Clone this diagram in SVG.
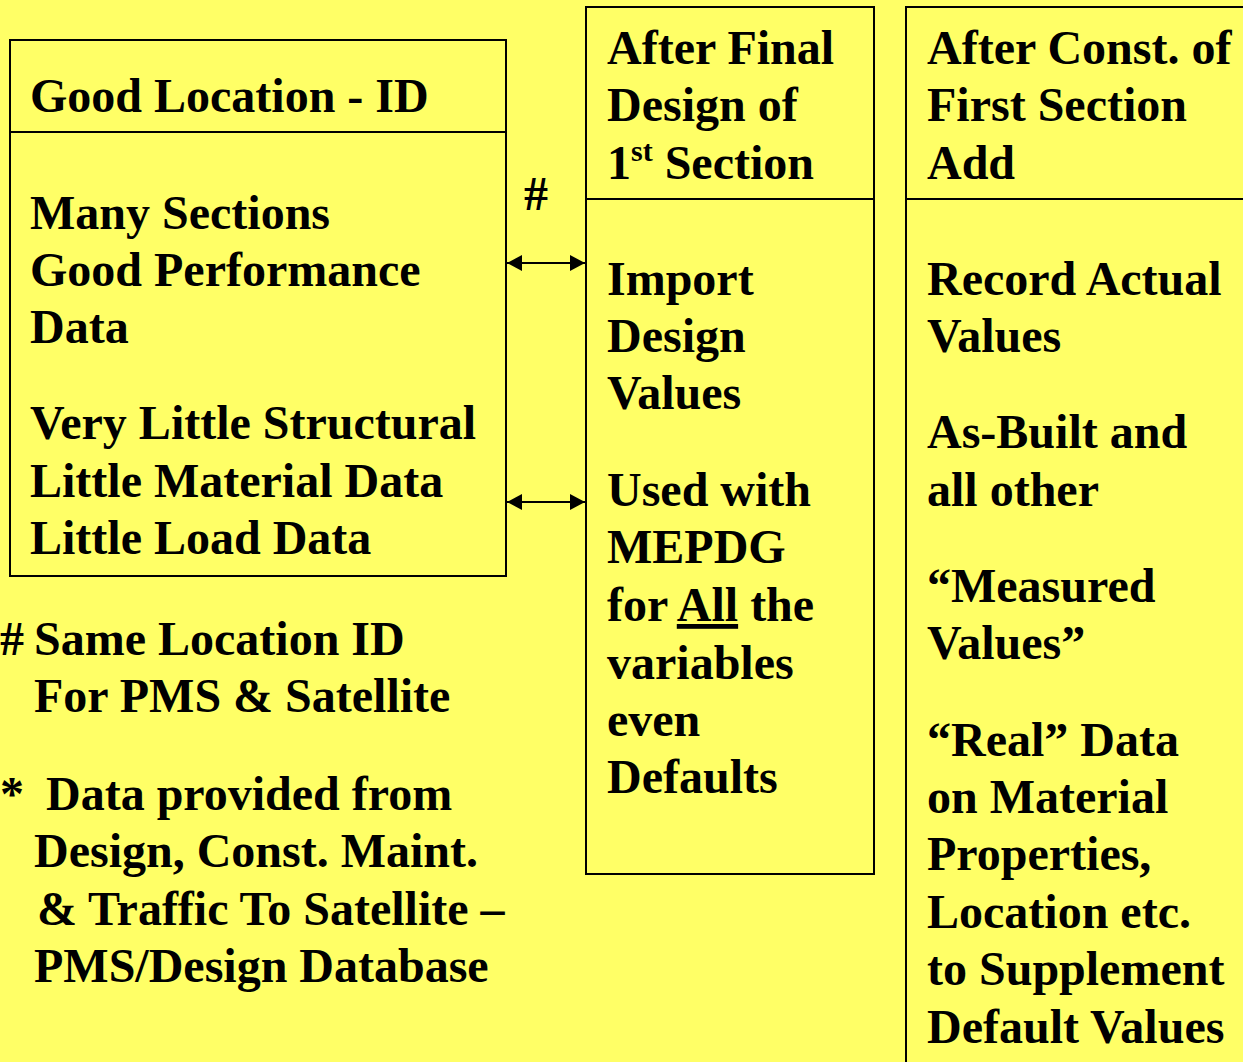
<svg xmlns="http://www.w3.org/2000/svg" width="1243" height="1062" viewBox="0 0 1243 1062">
<defs>
<style>
text{font-family:'Liberation Serif';font-weight:bold;font-size:48px;fill:#000}
.box{fill:none;stroke:#000;stroke-width:2}
.conn{stroke:#000;stroke-width:2;fill:none}
</style>
<marker id="ah" viewBox="0 0 15 16" refX="15" refY="8" markerWidth="15" markerHeight="16" markerUnits="userSpaceOnUse" orient="auto-start-reverse">
<path d="M0,0 L15,8 L0,16 Z" fill="#000"/>
</marker>
</defs>
<rect width="1243" height="1062" fill="#FFFF66"/>
<g id="node-good-location">
<rect class="box" x="10" y="40" width="496" height="536"/>
<line class="box" x1="10" y1="132" x2="506" y2="132"/>
<text x="30" y="112">Good Location - ID</text>
<text x="30" y="229">Many Sections</text>
<text x="30" y="286">Good Performance</text>
<text x="30" y="343">Data</text>
<text x="30" y="439">Very Little Structural</text>
<text x="30" y="497">Little Material Data</text>
<text x="30" y="554">Little Load Data</text>
</g>
<g id="node-after-final-design">
<rect class="box" x="586" y="7" width="288" height="867"/>
<line class="box" x1="586" y1="199" x2="874" y2="199"/>
<text x="607" y="64">After Final</text>
<text x="607" y="121">Design of</text>
<text x="607" y="179">1<tspan font-size="30" dy="-18">st</tspan><tspan dy="18"> Section</tspan></text>
<text x="607" y="295">Import</text>
<text x="607" y="352">Design</text>
<text x="607" y="409">Values</text>
<text x="607" y="506">Used with</text>
<text x="607" y="563">MEPDG</text>
<text x="607" y="621">for <tspan text-decoration="underline">All</tspan> the</text>
<text x="607" y="679">variables</text>
<text x="607" y="736">even</text>
<text x="607" y="793">Defaults</text>
</g>
<g id="node-after-const">
<rect class="box" x="906" y="7" width="345" height="1070"/>
<line class="box" x1="906" y1="199" x2="1251" y2="199"/>
<text x="927" y="64">After Const. of</text>
<text x="927" y="121">First Section</text>
<text x="927" y="179">Add</text>
<text x="927" y="295">Record Actual</text>
<text x="927" y="352">Values</text>
<text x="927" y="448">As-Built and</text>
<text x="927" y="506">all other</text>
<text x="927" y="602">“Measured</text>
<text x="927" y="659">Values”</text>
<text x="927" y="756">“Real” Data</text>
<text x="927" y="813">on Material</text>
<text x="927" y="870">Properties,</text>
<text x="927" y="928">Location etc.</text>
<text x="927" y="985">to Supplement</text>
<text x="927" y="1043">Default Values</text>
</g>
<g id="connectors">
<line class="conn" x1="507" y1="263" x2="585" y2="263" marker-start="url(#ah)" marker-end="url(#ah)"/>
<line class="conn" x1="507" y1="502" x2="585" y2="502" marker-start="url(#ah)" marker-end="url(#ah)"/>
<text x="524" y="210">#</text>
</g>
<g id="notes">
<text x="0" y="655">#<tspan x="34">Same Location ID</tspan></text>
<text x="34" y="712">For PMS &amp; Satellite</text>
<text x="0" y="810">*<tspan x="46">Data provided from</tspan></text>
<text x="34" y="867">Design, Const. Maint.</text>
<text x="37" y="925">&amp; Traffic To Satellite –</text>
<text x="34" y="982">PMS/Design Database</text>
</g>
</svg>
